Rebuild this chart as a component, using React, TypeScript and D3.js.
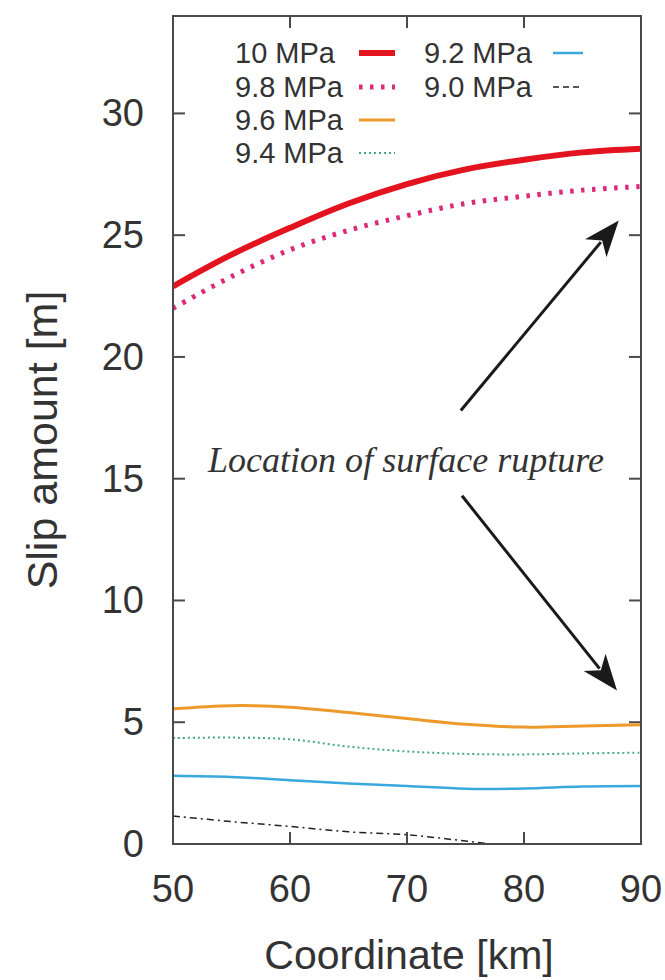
import React from "react";
import * as d3 from "d3";

const coords = [50, 55, 60, 65, 70, 75, 80, 85, 90];
const slip10 = [22.9, 24.2, 25.3, 26.3, 27.1, 27.7, 28.1, 28.4, 28.55];
const slip98 = [22.0, 23.3, 24.4, 25.2, 25.8, 26.3, 26.6, 26.85, 27.0];
const slip96 = [5.55, 5.68, 5.62, 5.4, 5.15, 4.92, 4.8, 4.85, 4.9];
const slip94 = [4.35, 4.37, 4.3, 4.0, 3.8, 3.7, 3.68, 3.72, 3.75];
const slip92 = [2.8, 2.75, 2.62, 2.48, 2.38, 2.27, 2.28, 2.36, 2.38];
const coords90 = [50, 55, 60, 65, 70, 75, 78, 81];
const slip90 = [1.15, 0.92, 0.72, 0.5, 0.38, 0.12, -0.05, -0.3];

const xTicks = [50, 60, 70, 80, 90];
const yTicks = [0, 5, 10, 15, 20, 25, 30];
const legendLabels = ["10 MPa", "9.8 MPa", "9.6 MPa", "9.4 MPa", "9.2 MPa", "9.0 MPa"];

const W = 665, H = 980;
const L = 173, R = 641, T = 16, B = 844;

const series = [
  { label: legendLabels[0], xs: coords, ys: slip10, color: "#e3141f", width: 6, dash: "" },
  { label: legendLabels[1], xs: coords, ys: slip98, color: "#dc2a78", width: 5, dash: "3.5 7.5" },
  { label: legendLabels[2], xs: coords, ys: slip96, color: "#ec9a2c", width: 3, dash: "" },
  { label: legendLabels[3], xs: coords, ys: slip94, color: "#45a88a", width: 2, dash: "2 3" },
  { label: legendLabels[4], xs: coords, ys: slip92, color: "#3aa8dc", width: 2.5, dash: "" },
  { label: legendLabels[5], xs: coords90, ys: slip90, color: "#222", width: 1.5, dash: "7 4 2 4" },
];

export default function App() {
  const x = d3.scaleLinear().domain([50, 90]).range([L, R]);
  const y = d3.scaleLinear().domain([0, 34]).range([B, T]);
  const line = d3
    .line<[number, number]>()
    .x((d) => x(d[0]))
    .y((d) => y(d[1]))
    .curve(d3.curveCatmullRom.alpha(0.5));

  const frame = "#4a4a4a";
  const txt = "#333";
  const tick = 12;

  const legendPos = [
    { tx: 235, sx: 359, row: 0 },
    { tx: 235, sx: 359, row: 1 },
    { tx: 235, sx: 359, row: 2 },
    { tx: 235, sx: 359, row: 3 },
    { tx: 424, sx: 553, row: 0 },
    { tx: 424, sx: 553, row: 1 },
  ];
  const rowY = [53, 87, 120, 153];

  const arrowHead = (x1: number, y1: number, x2: number, y2: number) => {
    const ang = Math.atan2(y2 - y1, x2 - x1);
    const len = 36, half = 14, back = 26;
    const p = (d: number, o: number) => [
      x2 - d * Math.cos(ang) - o * Math.sin(ang),
      y2 - d * Math.sin(ang) + o * Math.cos(ang),
    ];
    const a = p(len, half), b = p(back, 0), c = p(len, -half);
    return `M${x2},${y2}L${a[0]},${a[1]}L${b[0]},${b[1]}L${c[0]},${c[1]}Z`;
  };

  const arrows = [
    { x1: 74.6, y1: 17.8, x2: 88.1, y2: 25.6 },
    { x1: 74.7, y1: 14.3, x2: 87.95, y2: 6.3 },
  ];

  return (
    <svg
      width={W}
      height={H}
      style={{ position: "absolute", left: 0, top: 0, background: "#fff" }}
      fontFamily="'Liberation Sans', Arial, sans-serif"
    >
      <defs>
        <clipPath id="plotclip">
          <rect x={L} y={T} width={R - L} height={B - T} />
        </clipPath>
      </defs>

      {xTicks.map((t) => (
        <g key={"xt" + t}>
          <line x1={x(t)} x2={x(t)} y1={B} y2={B - tick} stroke={frame} strokeWidth={2} />
          <line x1={x(t)} x2={x(t)} y1={T} y2={T + tick} stroke={frame} strokeWidth={2} />
          <text x={x(t)} y={889} textAnchor="middle" dominantBaseline="central" fontSize={38} fill={txt}>
            {t}
          </text>
        </g>
      ))}
      {yTicks.map((t) => (
        <g key={"yt" + t}>
          <line x1={L} x2={L + tick} y1={y(t)} y2={y(t)} stroke={frame} strokeWidth={2} />
          <line x1={R} x2={R - tick} y1={y(t)} y2={y(t)} stroke={frame} strokeWidth={2} />
          <text x={144} y={y(t)} textAnchor="end" dominantBaseline="central" fontSize={38} fill={txt}>
            {t}
          </text>
        </g>
      ))}

      <g clipPath="url(#plotclip)">
        {series.map((s) => (
          <path
            key={s.label}
            d={line(s.xs.map((v, i) => [v, s.ys[i]] as [number, number])) || ""}
            fill="none"
            stroke={s.color}
            strokeWidth={s.width}
            strokeDasharray={s.dash || undefined}
          />
        ))}
      </g>

      {series.map((s, i) => {
        const p = legendPos[i];
        const yy = rowY[p.row];
        return (
          <g key={"lg" + i}>
            <text x={p.tx} y={yy} dominantBaseline="central" fontSize={29} fill={txt}>
              {s.label}
            </text>
            <line
              x1={p.sx}
              x2={p.sx + (i >= 4 ? 30 : 36)}
              y1={yy}
              y2={yy}
              stroke={s.color}
              strokeWidth={s.width}
              strokeDasharray={i === 5 ? "6 4" : s.dash || undefined}
            />
          </g>
        );
      })}

      <rect x={L} y={T} width={R - L} height={B - T} fill="none" stroke={frame} strokeWidth={2} />

      <text
        x={406}
        y={460}
        textAnchor="middle"
        dominantBaseline="central"
        fontFamily="'Liberation Serif', 'Times New Roman', serif"
        fontStyle="italic"
        fontSize={35}
        textLength={396}
        lengthAdjust="spacingAndGlyphs"
        fill="#333"
      >
        Location of surface rupture
      </text>
      {arrows.map((a, i) => {
        const x1 = x(a.x1), y1 = y(a.y1), x2 = x(a.x2), y2 = y(a.y2);
        const ang = Math.atan2(y2 - y1, x2 - x1);
        return (
          <g key={"ar" + i}>
            <line
              x1={x1}
              y1={y1}
              x2={x2 - 28 * Math.cos(ang)}
              y2={y2 - 28 * Math.sin(ang)}
              stroke="#1a1a1a"
              strokeWidth={3}
            />
            <path d={arrowHead(x1, y1, x2, y2)} fill="#1a1a1a" />
          </g>
        );
      })}

      <text x={(L + R) / 2 + 2} y={955} textAnchor="middle" dominantBaseline="central" fontSize={41} fill={txt}>
        Coordinate [km]
      </text>
      <text
        transform={`translate(42,440) rotate(-90)`}
        textAnchor="middle"
        dominantBaseline="central"
        fontSize={43}
        fill={txt}
      >
        Slip amount [m]
      </text>
    </svg>
  );
}
